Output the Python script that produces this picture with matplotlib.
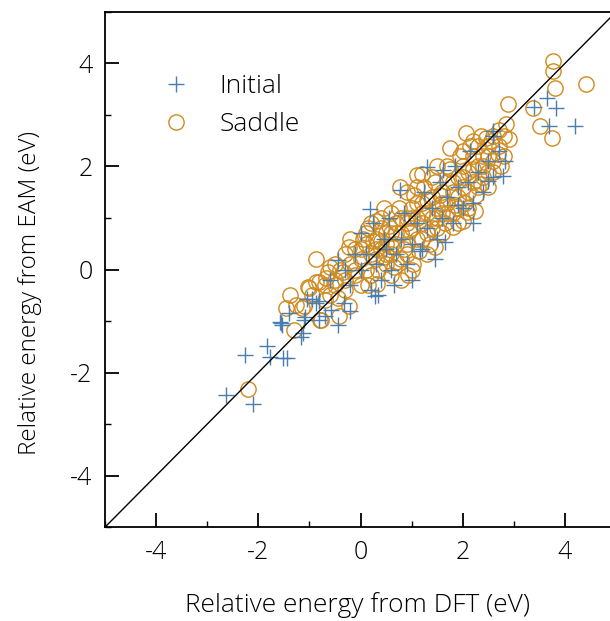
import numpy as np
import matplotlib
matplotlib.use('Agg')
import matplotlib.pyplot as plt
from matplotlib.ticker import MultipleLocator

plt.rcParams['font.family'] = ['Open Sans', 'DejaVu Sans']
plt.rcParams['axes.unicode_minus'] = False

# Saddle points (DFT, EAM)
saddle_x = [3.76, 3.76, 3.80, 4.41, 2.89, 3.37, 3.51, 3.74, 2.90, 2.85, 2.07, 2.69, 0.78, 1.11,
            -2.2, -1.31, -1.38, -1.27, -0.80, -1.03, -0.88, -0.68, -0.88, -0.23, -1.01, -0.82,
            -0.64, -0.78, -0.43, -0.23, 0.33, 1.46, 1.81, 2.09, 2.24, 0.92, 1.03,
            -0.5, -0.4, -0.3, -0.2, -0.1, 0.0, 0.1, 0.1, 0.2, 0.2, 0.3, 0.3, 0.4, 0.4, 0.5, 0.5,
            0.6, 0.6, 0.7, 0.7, 0.8, 0.8, 0.9, 0.9, 1.0, 1.0, 1.1, 1.1, 1.2, 1.2, 1.3, 1.3,
            1.4, 1.4, 1.5, 1.5, 1.6, 1.6, 1.7, 1.7, 1.8, 1.8, 1.9, 1.9, 2.0, 2.0, 2.1, 2.1,
            2.2, 2.2, 2.3, 2.3, 2.4, 2.4, 2.5, 2.6, 2.6, 2.7, 2.8, 2.8,
            -0.6, -0.5, -0.3, -0.1, 0.0, 0.05, 0.15, 0.25, 0.35, 0.45, 0.55, 0.65, 0.75, 0.85,
            0.95, 1.05, 1.15, 1.25, 1.35, 1.45, 1.55, 1.65, 1.75, 1.85, 1.95, 2.05, 2.15, 2.25,
            2.35, 2.45, 1.5, 1.2, 0.9, 0.6, 0.3, -0.2, -0.45, -0.7, -1.1, 0.8, 1.0, 1.9, 2.5,
            0.2, 0.4, 0.5, 0.6, 0.7, 0.8, 0.9, 1.0, 1.1, 1.2, 1.3, 1.4, 1.5, 1.6, 1.7, 1.8,
            1.9, 2.0, 2.1, 2.2, 2.3, 2.4, 2.5, 2.6, 2.7, 2.2, 2.0, 1.7, 1.4, 1.1, 0.4, 0.5,
            0.3, 0.0, -0.1, -0.3, -0.5, -0.7, -0.95, -0.6, 0.15, 0.6, 1.3, 1.6, 2.0, 2.5,
            2.75, 0.9, 1.2, 0.7, -1.15, -1.45, -0.35, 0.1, 0.45, 1.75, 2.35, 2.55]
saddle_y = [4.04, 3.85, 3.53, 3.59, 3.22, 3.14, 2.78, 2.56, 2.54, 2.82, 2.64, 2.25, 1.61, 1.84,
            -2.31, -1.17, -0.49, -0.68, -0.97, -0.33, -0.25, -0.16, 0.21, 0.43, -0.35, -0.25,
            -0.04, -0.97, -0.91, -0.70, -0.29, 0.43, 0.83, 1.11, 1.13, -0.10, 0.10,
            -0.3, 0.0, -0.2, 0.1, -0.1, 0.2, 0.0, 0.5, 0.3, -0.1, 0.6, 0.2, 0.4, 0.8, 0.1, 0.5,
            0.7, 0.3, 0.9, 0.5, 0.2, 0.7, 1.0, 0.5, 0.8, 1.2, 0.6, 1.0, 1.3, 0.9, 1.1, 0.7,
            1.4, 1.0, 1.2, 0.8, 1.5, 1.1, 1.3, 1.7, 1.5, 1.1, 1.8, 1.4, 1.6, 2.0, 1.9, 1.5,
            2.2, 1.7, 2.0, 2.4, 2.2, 1.8, 2.4, 2.1, 2.6, 2.4, 2.6, 2.2,
            -0.5, 0.1, 0.3, 0.4, -0.3, 0.6, 0.8, 0.55, 0.0, 0.25, 0.85, 0.05, 1.2, 0.4,
            0.75, 1.45, 0.35, 1.6, 0.5, 1.7, 1.45, 0.9, 1.95, 1.25, 2.2, 1.3, 2.4, 1.45,
            1.65, 2.55, 2.0, 1.85, 1.5, 1.1, 0.95, 0.6, -0.55, -0.6, -0.7, -0.2, 0.0, 0.9, 1.6,
            0.9, 1.0, 0.7, 0.45, 0.7, 1.0, 0.3, 1.0, 1.3, 0.6, 1.35, 0.8, 1.0, 1.3, 1.1, 1.7,
            1.2, 1.8, 1.2, 1.95, 1.6, 2.0, 2.2, 1.9, 2.7, 2.5, 2.3, 2.0, 1.8, 1.6, 0.55, 0.3,
            0.4, 0.4, 0.0, -0.4, -0.2, -0.3, -0.5, 0.05, -0.3, -0.1, 0.3, 0.7, 0.95, 1.9,
            2.0, 0.9, 1.1, 0.15, -0.75, -0.75, -0.05, 0.7, 1.2, 2.35, 2.6, 2.5]

# Initial points (DFT, EAM)
initial_x = [-2.63, -2.11, -2.26, -1.83, -1.77, -1.52, -1.44, -1.58, -1.54, -1.17, -1.13, -1.40,
             -1.11, -1.05, -0.88, -0.82, -0.45, -0.58, -0.82, -0.33, -0.94, -1.09, -1.56, 0.29,
             0.19, 1.66, -0.45, 1.91, 1.17,
             3.65, 3.82, 3.39, 3.68, 4.19, 2.59, 2.83, 2.79, 2.5, 1.31, 1.62, 0.78,
             -0.2, 0.0, 0.1, 0.2, 0.3, 0.4, 0.5, 0.6, 0.7, 0.8, 0.9, 1.0, 1.1, 1.2, 1.3, 1.4,
             1.5, 1.6, 1.7, 1.8, 1.9, 2.0, 2.1, 2.2, 2.3, 2.4, 2.5, 2.6, 2.7, 0.0, -0.1, 0.25,
             0.55, 0.85, 1.25, 1.55, 1.85, 2.15, 0.35, 0.65, 1.0, -0.6, -0.3, -0.7, -0.2, 0.45,
             1.45, 2.2, 2.6]
initial_y = [-2.43, -2.60, -1.65, -1.48, -1.69, -1.71, -1.71, -1.01, -1.07, -1.30, -1.24, -0.85,
             -0.97, -0.58, -0.64, -0.97, -1.07, -0.78, -0.62, -0.64, -0.58, -0.93, -1.03, -0.52,
             1.17, 0.54, 0.19, 1.26, 0.35,
             3.32, 3.13, 3.15, 2.78, 2.78, 2.68, 2.10, 1.81, 1.71, 1.98, 1.94, 1.55,
             -0.3, 0.0, 0.3, -0.4, 0.1, -0.2, 0.4, 0.0, 0.3, 0.6, 0.1, 0.5, 0.9, 0.4, 0.8, 1.2,
             0.6, 1.0, 1.4, 0.9, 1.6, 1.2, 1.7, 1.3, 1.9, 1.5, 2.1, 1.8, 2.3, 0.7, 0.3, 0.9,
             1.0, 1.1, 1.5, 1.7, 2.0, 2.3, -0.5, -0.3, -0.2, -0.2, 0.0, -0.9, -0.8, 0.6,
             0.2, 0.9, 2.6]

blue = '#4a7eb0'
orange = '#d08a1e'

fig = plt.figure(figsize=(6.1, 6.21), dpi=100)
ax = fig.add_axes([0.172, 0.151, 0.828, 0.830])

ax.plot(initial_x, initial_y, '+', color=blue, ms=11, mew=1.0, label='Initial', zorder=3)
ax.plot(saddle_x, saddle_y, 'o', mfc='none', mec=orange, ms=11, mew=1.0, label='Saddle', zorder=2)
ax.plot([-5, 5], [-5, 5], color='black', lw=1.0, zorder=4)

ax.set_xlim(-5, 4.88)
ax.set_ylim(-5, 5)
ax.spines['right'].set_visible(False)
for s in ['left', 'bottom', 'top']:
    ax.spines[s].set_linewidth(1.3)

ax.xaxis.set_major_locator(MultipleLocator(2))
ax.xaxis.set_minor_locator(MultipleLocator(1))
ax.yaxis.set_major_locator(MultipleLocator(2))
ax.yaxis.set_minor_locator(MultipleLocator(1))
ax.tick_params(which='major', direction='in', length=10, width=1.3, labelsize=18, pad=9)
ax.tick_params(which='minor', direction='in', length=4, width=1.0)
for lab in ax.get_xticklabels() + ax.get_yticklabels():
    lab.set_fontweight('light')

ax.set_xlabel('Relative energy from DFT (eV)', fontsize=19, fontweight='light', labelpad=20)
ax.set_ylabel('Relative energy from EAM (eV)', fontsize=17.5, fontweight='light')
ax.yaxis.set_label_coords(-0.125, 0.455)

ax.legend(loc='upper left', bbox_to_anchor=(0.055, 0.925), frameon=False,
          prop={'size': 19, 'weight': 'light'}, handlelength=1.5, handletextpad=0.9,
          labelspacing=0.5)

fig.savefig('out.png', dpi=100)
